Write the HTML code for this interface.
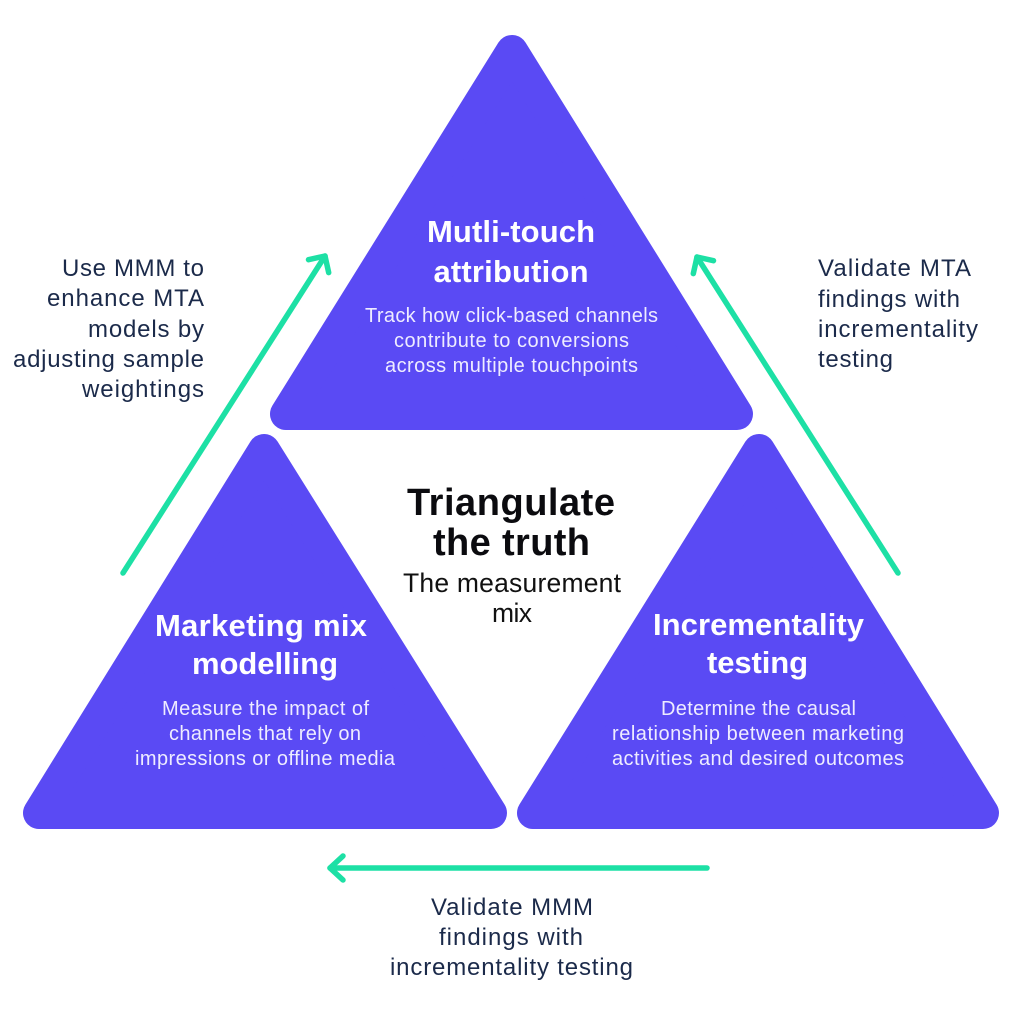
<!DOCTYPE html>
<html>
<head>
<meta charset="utf-8">
<style>
  html, body { margin:0; padding:0; background:#ffffff; }
  body { width:1024px; height:1024px; overflow:hidden; }
  svg { display:block; }
  text { font-family: "Liberation Sans", Arial, sans-serif; }
</style>
</head>
<body>
<svg width="1024" height="1024" viewBox="0 0 1024 1024" xmlns="http://www.w3.org/2000/svg">
  <rect width="1024" height="1024" fill="#ffffff"/>

  <!-- Triangles (rounded via stroke-linejoin) -->
  <g fill="#5a4af4" stroke="#5a4af4" stroke-width="32" stroke-linejoin="round">
    <polygon points="512,51 286,414 737,414"/>
    <polygon points="264,450 39,813 491,813"/>
    <polygon points="759,450 533,813 983,813"/>
  </g>

  <!-- Green arrows -->
  <g fill="none" stroke="#1de0a5" stroke-width="5.5" stroke-linecap="round" stroke-linejoin="round">
    <line x1="123" y1="573" x2="325" y2="256"/>
    <polyline points="308.5,259.7 325,256 328.7,272.6"/>
    <line x1="898" y1="573" x2="697" y2="257"/>
    <polyline points="713.5,260.7 697,257 693.3,273.6"/>
    <line x1="707" y1="868" x2="330" y2="868"/>
    <polyline points="343,856 330,868 343,880"/>
  </g>

  <!-- Top triangle text -->
  <g fill="#ffffff" text-anchor="middle">
    <text x="511" y="242" font-size="31" font-weight="bold" textLength="168" lengthAdjust="spacing">Mutli-touch</text>
    <text x="511" y="282" font-size="31" font-weight="bold" textLength="155" lengthAdjust="spacing">attribution</text>
    <g font-size="20" fill="#eeecff">
      <text x="511.5" y="322" textLength="293" lengthAdjust="spacing">Track how click-based channels</text>
      <text x="511.5" y="347" textLength="235" lengthAdjust="spacing">contribute to conversions</text>
      <text x="511.5" y="372" textLength="253" lengthAdjust="spacing">across multiple touchpoints</text>
    </g>
  </g>

  <!-- Left triangle text -->
  <g fill="#ffffff" text-anchor="middle">
    <text x="261" y="636" font-size="31" font-weight="bold" textLength="212" lengthAdjust="spacing">Marketing mix</text>
    <text x="265" y="674" font-size="31" font-weight="bold" textLength="146" lengthAdjust="spacing">modelling</text>
    <g font-size="20" fill="#eeecff">
      <text x="265.5" y="715" textLength="207" lengthAdjust="spacing">Measure the impact of</text>
      <text x="265" y="740" textLength="192" lengthAdjust="spacing">channels that rely on</text>
      <text x="265" y="765" textLength="260" lengthAdjust="spacing">impressions or offline media</text>
    </g>
  </g>

  <!-- Right triangle text -->
  <g fill="#ffffff" text-anchor="middle">
    <text x="758.5" y="635" font-size="31" font-weight="bold" textLength="211" lengthAdjust="spacing">Incrementality</text>
    <text x="757.5" y="673" font-size="31" font-weight="bold" textLength="101" lengthAdjust="spacing">testing</text>
    <g font-size="20" fill="#eeecff">
      <text x="758.5" y="715" textLength="195" lengthAdjust="spacing">Determine the causal</text>
      <text x="758" y="740" textLength="292" lengthAdjust="spacing">relationship between marketing</text>
      <text x="758" y="765" textLength="292" lengthAdjust="spacing">activities and desired outcomes</text>
    </g>
  </g>

  <!-- Center text -->
  <g text-anchor="middle">
    <text x="511" y="515" font-size="38" font-weight="bold" fill="#0b0b0f" textLength="208" lengthAdjust="spacing">Triangulate</text>
    <text x="511.5" y="555" font-size="38" font-weight="bold" fill="#0b0b0f" textLength="157" lengthAdjust="spacing">the truth</text>
    <text x="512" y="592" font-size="26.5" fill="#111111" textLength="218" lengthAdjust="spacing">The measurement</text>
    <text x="512" y="622" font-size="26.5" fill="#111111" textLength="40" lengthAdjust="spacing">mix</text>
  </g>

  <!-- Left annotation (right-aligned) -->
  <g fill="#1b2a4a" font-size="24" text-anchor="end">
    <text x="204" y="276" textLength="142" lengthAdjust="spacing">Use MMM to</text>
    <text x="204" y="306" textLength="157" lengthAdjust="spacing">enhance MTA</text>
    <text x="204" y="337" textLength="116" lengthAdjust="spacing">models by</text>
    <text x="204" y="367" textLength="191" lengthAdjust="spacing">adjusting sample</text>
    <text x="204" y="397" textLength="122" lengthAdjust="spacing">weightings</text>
  </g>

  <!-- Right annotation (left-aligned) -->
  <g fill="#1b2a4a" font-size="24" text-anchor="start">
    <text x="818" y="276" textLength="153" lengthAdjust="spacing">Validate MTA</text>
    <text x="818" y="307" textLength="142" lengthAdjust="spacing">findings with</text>
    <text x="818" y="337" textLength="160" lengthAdjust="spacing">incrementality</text>
    <text x="818" y="367" textLength="75" lengthAdjust="spacing">testing</text>
  </g>

  <!-- Bottom annotation (centered) -->
  <g fill="#1b2a4a" font-size="24" text-anchor="middle">
    <text x="512" y="915" textLength="162" lengthAdjust="spacing">Validate MMM</text>
    <text x="511" y="945" textLength="144" lengthAdjust="spacing">findings with</text>
    <text x="511.5" y="975" textLength="243" lengthAdjust="spacing">incrementality testing</text>
  </g>
</svg>
</body>
</html>
